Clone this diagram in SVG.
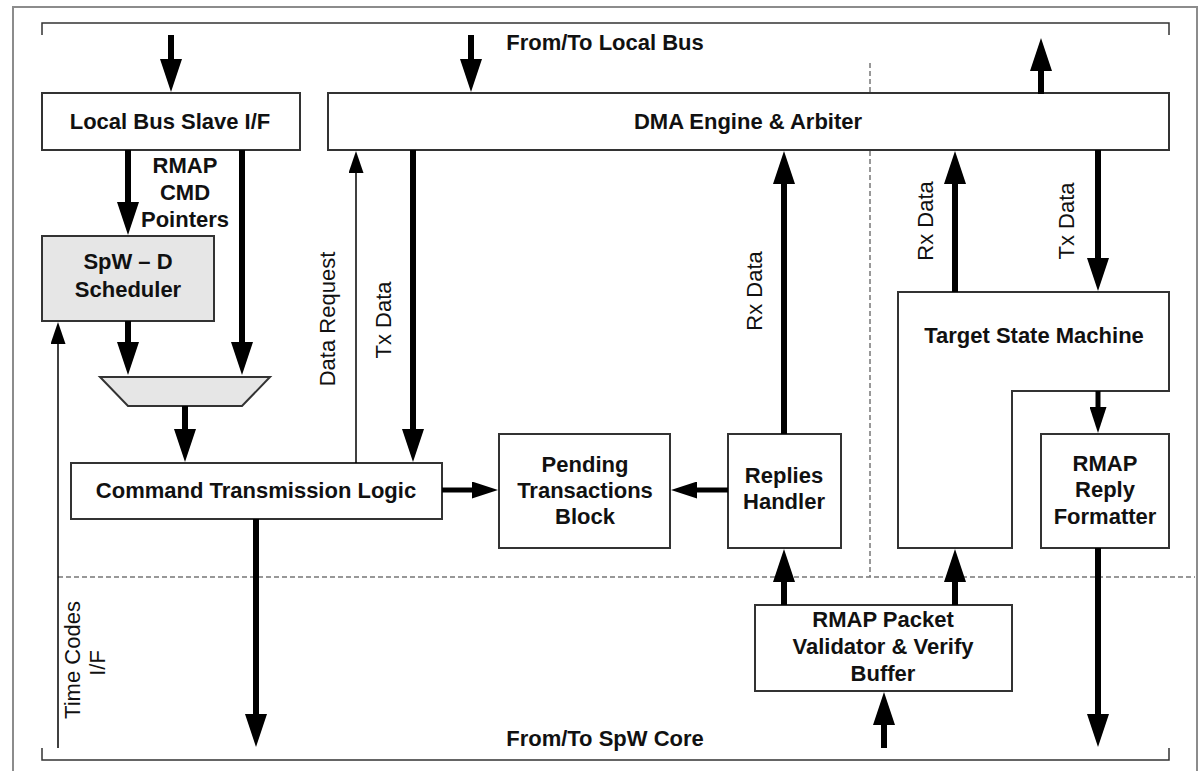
<svg xmlns="http://www.w3.org/2000/svg" width="1200" height="771" viewBox="0 0 1200 771">
<style>
.box{fill:#fff;stroke:#333;stroke-width:2}
.gray{fill:#e6e6e6;stroke:#333;stroke-width:2}
.t{font-family:"Liberation Sans",Arial,sans-serif;font-size:22px;font-weight:bold;fill:#111;text-anchor:middle}
.r{font-family:"Liberation Sans",Arial,sans-serif;font-size:22px;fill:#111;text-anchor:middle}
.thick{stroke:#000;stroke-width:6;fill:none;marker-end:url(#hb)}
.med{stroke:#000;stroke-width:5;fill:none;marker-end:url(#hm)}
.thin{stroke:#000;stroke-width:1.5;fill:none;marker-end:url(#hs)}
.dash{stroke:#777;stroke-width:1.5;stroke-dasharray:5,3;fill:none}
.brk{stroke:#333;stroke-width:1.5;fill:none}
</style>
<defs>
<marker id="hb" markerUnits="userSpaceOnUse" markerWidth="34" markerHeight="22" refX="1" refY="11" orient="auto"><path d="M0,0 L33,11 L0,22 z" fill="#000"/></marker>
<marker id="hm" markerUnits="userSpaceOnUse" markerWidth="27" markerHeight="17" refX="1" refY="8.5" orient="auto"><path d="M0,0 L26,8.5 L0,17 z" fill="#000"/></marker>
<marker id="hs" markerUnits="userSpaceOnUse" markerWidth="23" markerHeight="15" refX="1" refY="7.5" orient="auto"><path d="M0,0 L22,7.5 L0,15 z" fill="#000"/></marker>
</defs>
<rect x="0" y="0" width="1200" height="771" fill="#fff"/>
<rect x="13" y="7" width="1184" height="790" fill="none" stroke="#8c8c8c" stroke-width="2"/>
<g id="frame">
<path class="brk" d="M42,35 V23 H1169 V35"/>
<path class="brk" d="M42,748 V760 H1169 V748"/>
<path class="dash" d="M870,63 V577"/>
<path class="dash" d="M58,577 H1195"/>
<text class="t" x="605" y="50">From/To Local Bus</text>
<text class="t" x="605" y="746">From/To SpW Core</text>
</g>
<g id="lbs"><rect class="box" x="42" y="93" width="258" height="57"/><text class="t" x="170" y="128.5">Local Bus Slave I/F</text></g>
<g id="dma"><rect class="box" x="328" y="93" width="841" height="57"/><text class="t" x="748" y="128.5">DMA Engine &amp; Arbiter</text></g>
<g id="sched"><rect class="gray" x="42" y="236" width="172" height="85"/><text class="t" x="128" y="269">SpW – D</text><text class="t" x="128" y="297">Scheduler</text></g>
<g id="mux"><polygon class="gray" points="100,377 270,377 242,406 128,406"/></g>
<g id="ctl"><rect class="box" x="71" y="463" width="371" height="56"/><text class="t" x="256" y="497.5">Command Transmission Logic</text></g>
<g id="pending"><rect class="box" x="499" y="434" width="171" height="114"/><text class="t" x="585" y="472">Pending</text><text class="t" x="585" y="498">Transactions</text><text class="t" x="585" y="524">Block</text></g>
<g id="replies"><rect class="box" x="728" y="434" width="113" height="114"/><text class="t" x="784" y="483">Replies</text><text class="t" x="784" y="509">Handler</text></g>
<g id="tsm"><polygon class="box" points="898,292 1169,292 1169,391 1012,391 1012,548 898,548"/><text class="t" x="1034" y="342.5">Target State Machine</text></g>
<g id="formatter"><rect class="box" x="1041" y="434" width="128" height="114"/><text class="t" x="1105" y="471">RMAP</text><text class="t" x="1105" y="497">Reply</text><text class="t" x="1105" y="524">Formatter</text></g>
<g id="validator"><rect class="box" x="755" y="605" width="257" height="86"/><text class="t" x="883" y="627">RMAP Packet</text><text class="t" x="883" y="654">Validator &amp; Verify</text><text class="t" x="883" y="681">Buffer</text></g>
<g id="connectors">
<line class="thick" x1="171" y1="35" x2="171" y2="60"/>
<line class="thick" x1="471" y1="35" x2="471" y2="60"/>
<line class="thick" x1="1041" y1="94" x2="1041" y2="70"/>
<line class="thick" x1="128" y1="150" x2="128" y2="203"/>
<line class="thick" x1="242" y1="150" x2="242" y2="343"/>
<line class="thick" x1="128" y1="321" x2="128" y2="343"/>
<line class="thick" x1="185" y1="406" x2="185" y2="430"/>
<line class="thick" x1="413" y1="150" x2="413" y2="430"/>
<line class="thick" x1="256" y1="519" x2="256" y2="715"/>
<line class="med" x1="442" y1="490" x2="473" y2="490"/>
<line class="med" x1="728" y1="490" x2="696" y2="490"/>
<line class="thick" x1="784" y1="434" x2="784" y2="183"/>
<line class="thick" x1="784" y1="605" x2="784" y2="581"/>
<line class="thick" x1="955" y1="605" x2="955" y2="581"/>
<line class="thick" x1="884" y1="748" x2="884" y2="724"/>
<line class="med" x1="1098" y1="391" x2="1098" y2="408"/>
<line class="thick" x1="1098" y1="548" x2="1098" y2="715"/>
<line class="thick" x1="955" y1="292" x2="955" y2="183"/>
<line class="thick" x1="1098" y1="150" x2="1098" y2="259"/>
<line class="thin" x1="356" y1="463" x2="356" y2="172"/>
<line class="thin" x1="58" y1="748" x2="58" y2="343"/>
<text class="t" x="185" y="172.5">RMAP</text>
<text class="t" x="185" y="199.5">CMD</text>
<text class="t" x="185" y="226.5">Pointers</text>
<text class="r" transform="translate(335,319) rotate(-90)">Data Request</text>
<text class="r" transform="translate(391,320) rotate(-90)">Tx Data</text>
<text class="r" transform="translate(762,291) rotate(-90)">Rx Data</text>
<text class="r" transform="translate(933,221) rotate(-90)">Rx Data</text>
<text class="r" transform="translate(1074,221) rotate(-90)">Tx Data</text>
<text class="r" transform="translate(80,660) rotate(-90)">Time Codes</text>
<text class="r" transform="translate(105,663) rotate(-90)">I/F</text>
</g>
</svg>
